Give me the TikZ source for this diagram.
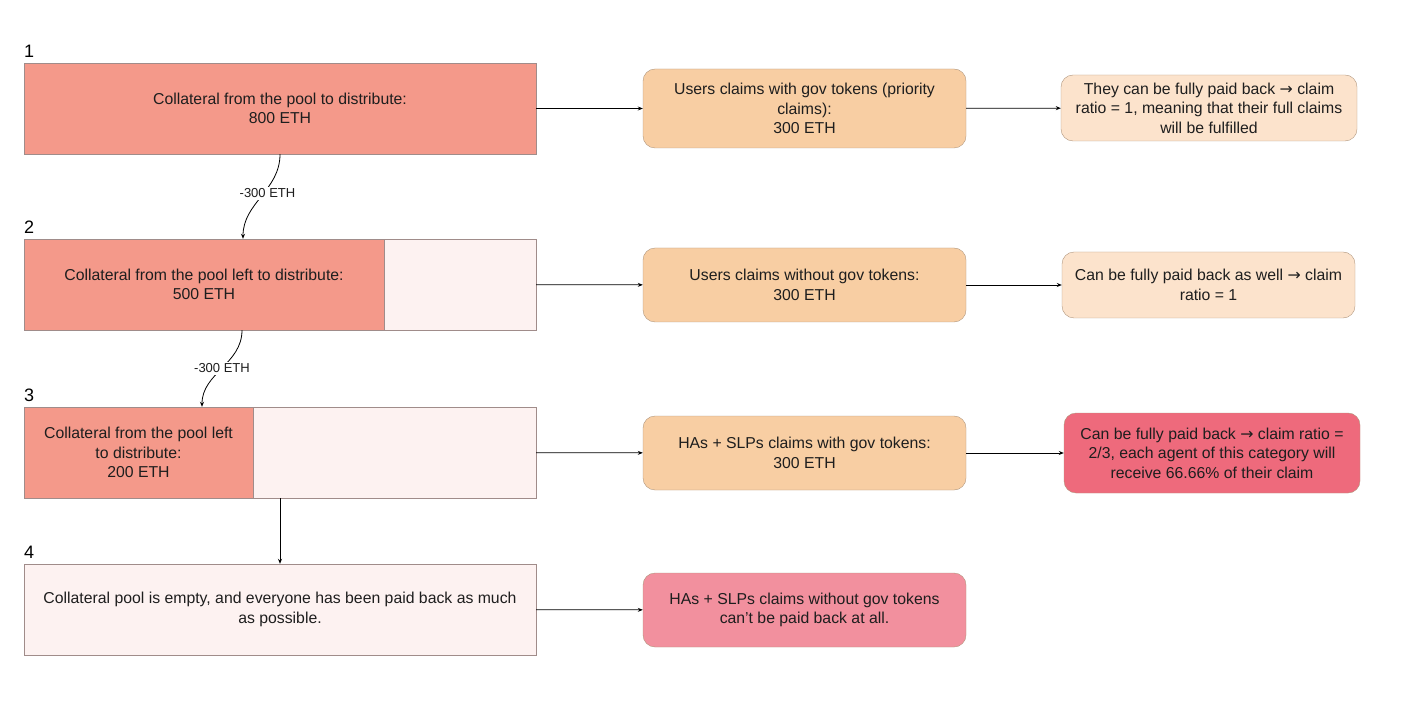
\documentclass[tikz,border=0pt]{standalone}
\usepackage{fontspec}
\setmainfont{Liberation Sans}
\newfontfamily\symbolfont{DejaVu Sans}
\usetikzlibrary{arrows.meta}

\definecolor{poolfull}{RGB}{244,153,138}
\definecolor{poolempty}{RGB}{253,242,241}
\definecolor{poolline}{RGB}{160,140,138}
\definecolor{claimfill}{RGB}{248,206,163}
\definecolor{claimline}{RGB}{176,150,125}
\definecolor{paidfill}{RGB}{252,227,204}
\definecolor{partfill}{RGB}{238,106,124}
\definecolor{nonefill}{RGB}{242,144,158}
\definecolor{ink}{RGB}{30,30,30}

\newcommand{\goesto}{{\symbolfont\char"2192}}

\begin{document}
\begin{tikzpicture}[
    x=1pt, y=-1pt,
    font=\fontsize{15.8}{19.5}\selectfont,
    pool/.style={draw=poolline, fill=poolfull, text=ink, align=center,
                 minimum height=91pt, inner sep=0pt},
    emptypool/.style={pool, fill=poolempty, minimum width=512pt},
    claim/.style={draw=claimline, fill=claimfill, text=ink, align=center,
                  rounded corners=12pt, minimum width=323pt, minimum height=74pt,
                  inner sep=0pt},
    outcome/.style={claim, fill=paidfill, minimum width=296pt, minimum height=66pt},
    num/.style={anchor=south west, inner sep=0pt, yshift=5pt,
                font=\fontsize{18}{20}\selectfont},
    minus/.style={fill=white, inner sep=1.5pt, text=ink,
                  font=\fontsize{13}{15}\selectfont},
    link/.style={black, line width=0.8pt, -{Stealth[length=5pt,width=4pt]}}
]

\useasboundingbox (0,0) rectangle (1410,708);

% ---------- collateral pool ----------
\node[pool, minimum width=512pt] (b1) at (280,108.5)
      {Collateral from the pool to distribute:\\800 ETH};
\node[emptypool] (b2) at (280,284.5) {};
\node[pool, minimum width=360pt] (b2left) at (204,284.5)
      {Collateral from the pool left to distribute:\\500 ETH};
\node[emptypool] (b3) at (280,452.5) {};
\node[pool, minimum width=229pt] (b3left) at (138.5,452.5)
      {Collateral from the pool left\\to distribute:\\200 ETH};
\node[emptypool] (b4) at (280,609.5)
      {Collateral pool is empty, and everyone has been paid back as much\\as possible.};

\foreach \n in {1,...,4}
  \node[num] at (b\n.north west) {\n};

% ---------- claims ----------
\node[claim, minimum height=79pt] (c1) at (804.5,108.5)
      {Users claims with gov tokens (priority\\claims):\\300 ETH};
\node[claim] (c2) at (804.5,285) {Users claims without gov tokens:\\300 ETH};
\node[claim] (c3) at (804.5,453) {HAs + SLPs claims with gov tokens:\\300 ETH};
\node[claim, fill=nonefill] (c4) at (804.5,610)
      {HAs + SLPs claims without gov tokens\\can't be paid back at all.};

% ---------- outcomes ----------
\node[outcome] (r1) at (1209,108)
      {They can be fully paid back \goesto\ claim\\ratio = 1, meaning that their full claims\\will be fulfilled};
\node[outcome, minimum width=293pt] (r2) at (1208.5,285)
      {Can be fully paid back as well \goesto\ claim\\ratio = 1};
\node[outcome, fill=partfill, minimum height=80pt] (r3) at (1212,453)
      {Can be fully paid back \goesto\ claim ratio =\\2/3, each agent of this category will\\receive 66.66\% of their claim};

% ---------- arrows ----------
\foreach \a/\b in {b1/c1, c1/r1, b2/c2, c2/r2, b3/c3, c3/r3, b4/c4}
  \draw[link] (\a) -- (\b);

\draw[link] (b1.south) to[out=-90, in=90]
      node[minus, xshift=6pt, yshift=3pt] {-300 ETH} ([xshift=-37pt]b2.north);
\draw[link] ([xshift=-38pt]b2.south) to[out=-90, in=90]
      node[minus] {-300 ETH} ([xshift=-78pt]b3.north);
\draw[link] (b3.south) -- (b4.north);

\end{tikzpicture}
\end{document}
